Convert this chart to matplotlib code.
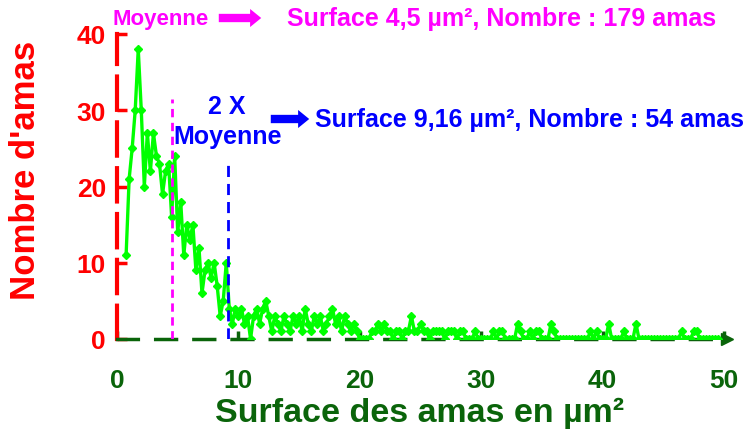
import matplotlib
matplotlib.use('Agg')
import matplotlib.pyplot as plt

plt.rcParams['font.family'] = ['Liberation Sans', 'DejaVu Sans']
plt.rcParams['font.weight'] = 'bold'

RED = '#ff0000'
DKGREEN = '#0a640a'
LIME = '#00ff00'
MAGENTA = '#ff00ff'
BLUE = '#0000ff'

# surface (µm²) of each class, step 0.25
surface = [0.75 + 0.25 * i for i in range(196)]
nombre = [
    11, 21, 25, 30, 38, 30, 20, 27, 22, 27, 24, 23, 19, 22, 23, 16, 24, 14, 18, 11,
    15, 13, 15, 9, 12, 6, 9, 10, 8, 10, 7, 3, 5, 10, 4, 2, 4, 3, 4, 2,
    3, 0, 3, 4, 2, 4, 5, 3, 1, 3, 2, 1, 3, 2, 1, 3, 2, 3, 1, 4,
    2, 1, 3, 2, 3, 1, 2, 3, 4, 2, 3, 1, 3, 2, 1, 2, 1, 0, 0, 0,
    0, 1, 1, 2, 1, 2, 1, 1, 0, 1, 1, 0, 1, 1, 3, 1, 1, 2, 1, 1,
    0, 1, 1, 1, 1, 0, 1, 1, 1, 0, 1, 1, 0, 0, 0, 1, 0, 0, 0, 0,
    0, 1, 0, 1, 1, 0, 0, 0, 0, 2, 1, 0, 0, 1, 0, 1, 1, 0, 0, 0,
    2, 1, 0, 0, 0, 0, 0, 0, 0, 0, 0, 0, 0, 1, 0, 1, 0, 0, 0, 2,
    0, 0, 0, 0, 1, 0, 0, 0, 2, 0, 0, 0, 0, 0, 0, 0, 0, 0, 0, 0,
    0, 0, 0, 1, 0, 0, 0, 1, 1, 0, 0, 0, 0, 0, 0, 0,
]

moyenne = 4.5
moyenne_y = 31.5
deux_moyenne = 9.16
deux_moyenne_y = 23.5

xticks = [0, 10, 20, 30, 40, 50]
yticks = [0, 10, 20, 30, 40]

W, H = 748, 439
fig = plt.figure(figsize=(W / 100, H / 100), dpi=100)
fig.patch.set_facecolor('white')
ax = fig.add_axes([117 / W, (H - 340) / H, (724 - 117) / W, (340 - 35) / H])
ax.set_xlim(0, 50)
ax.set_ylim(0, 40)

ax.plot(surface, nombre, color=LIME, lw=2.4, marker='D', ms=4.5, mfc=LIME, mec=LIME, zorder=3)

# reference lines
ax.plot([moyenne, moyenne], [0, moyenne_y], color=MAGENTA, lw=2, ls=(0, (3, 2)), zorder=4)
ax.plot([deux_moyenne, deux_moyenne], [0, deux_moyenne_y], color=BLUE, lw=2, ls=(0, (4, 2.5)), zorder=4)

# spines
for s in ['top', 'right']:
    ax.spines[s].set_visible(False)
ax.spines['left'].set_color(RED)
ax.spines['left'].set_linewidth(3)
ax.spines['left'].set_linestyle((0, (8, 3)))
ax.spines['bottom'].set_color(DKGREEN)
ax.spines['bottom'].set_linewidth(2.5)
ax.spines['bottom'].set_linestyle((0, (6, 5)))
ax.plot(1.005, 0, '>', color=DKGREEN, ms=8, transform=ax.get_yaxis_transform(), clip_on=False)

ax.set_xticks(xticks)
ax.set_yticks(yticks)
ax.tick_params(axis='y', direction='in', length=7, width=2.5, color=RED, labelcolor=RED,
               labelsize=19, pad=8)
ax.tick_params(axis='x', direction='in', length=6, width=2.5, color=DKGREEN, labelcolor=DKGREEN,
               labelsize=19, pad=21)
for lab in ax.get_xticklabels() + ax.get_yticklabels():
    lab.set_fontweight('bold')

ax.set_xlabel('Surface des amas en µm²', color=DKGREEN, fontsize=24.5, fontweight='bold')
ax.xaxis.set_label_coords(0.499, -0.19)
ax.set_ylabel("Nombre d'amas", color=RED, fontsize=25, fontweight='bold')
ax.yaxis.set_label_coords(-0.124, 0.557)

# annotations
def ftext(x, y, s, color, size=18, ha='left'):
    fig.text(x / W, 1 - y / H, s, color=color, fontsize=size, fontweight='bold', ha=ha, va='center')

def farrow(x1, x2, y, color):
    ax.annotate('', xy=(x2, H - y), xytext=(x1, H - y), xycoords='figure pixels',
                textcoords='figure pixels',
                arrowprops=dict(arrowstyle='simple,head_length=0.8,head_width=1.3,tail_width=0.6',
                                color=color, lw=0))

ftext(113, 19, 'Moyenne', MAGENTA, size=16)
farrow(216, 264, 19, MAGENTA)
ftext(287, 19, 'Surface 4,5 µm², Nombre : 179 amas', MAGENTA)

ftext(227, 107, '2 X', BLUE, ha='center')
ftext(228, 137, 'Moyenne', BLUE, ha='center')
farrow(268, 312, 120, BLUE)
ftext(315, 120, 'Surface 9,16 µm², Nombre : 54 amas', BLUE)

plt.savefig('out.png', dpi=100, facecolor='white')
